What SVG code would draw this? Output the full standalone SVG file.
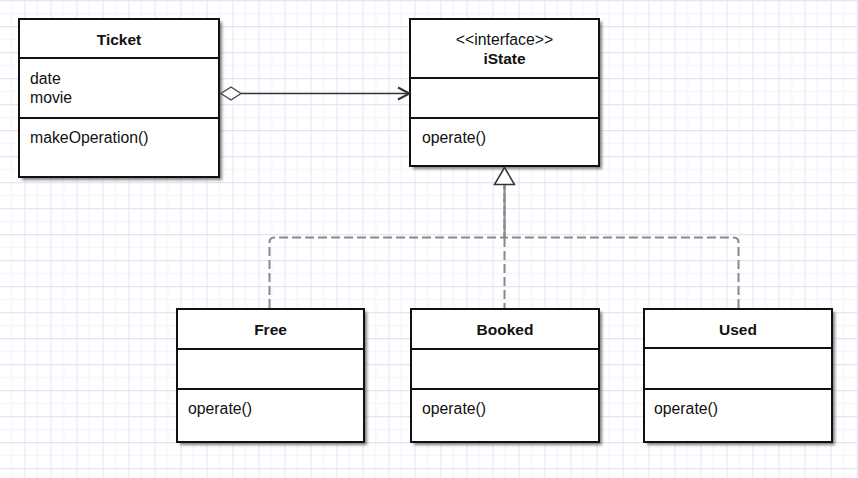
<svg xmlns="http://www.w3.org/2000/svg" width="858" height="478" viewBox="0 0 858 478">
<defs>
<pattern id="grid" patternUnits="userSpaceOnUse" width="26" height="26" x="-1.5" y="0">
<rect width="26" height="26" fill="#ffffff"/>
<line x1="0" y1="13.5" x2="26" y2="13.5" stroke="#f5f5fd" stroke-width="1.5"/>
<line x1="13" y1="0" x2="13" y2="26" stroke="#f5f5fd" stroke-width="1.5"/>
<line x1="0" y1="0.5" x2="26" y2="0.5" stroke="#e4e4f8" stroke-width="1.5"/>
<line x1="0" y1="0" x2="0" y2="26" stroke="#e4e4f8" stroke-width="2"/>
</pattern>
<filter id="shadow" x="-10%" y="-10%" width="130%" height="130%">
<feGaussianBlur stdDeviation="1.5"/>
</filter>
<style>
.sh{fill:#555;opacity:0.75;filter:url(#shadow)}
.box{fill:#ffffff;stroke:#111;stroke-width:2}
.div{stroke:#111;stroke-width:2}
.t{font-family:"Liberation Sans",Arial,sans-serif;font-size:15.8px;fill:#111}
.b{font-family:"Liberation Sans",Arial,sans-serif;font-size:15.5px;font-weight:bold;fill:#111;text-anchor:middle}
.c{text-anchor:middle}
.dash{fill:none;stroke:#8a8a8a;stroke-width:2;stroke-dasharray:9 4}
</style>
</defs>
<rect width="858" height="478" fill="url(#grid)"/>

<g id="ticket">
<rect class="sh" x="22" y="22" width="200" height="158"/>
<rect class="box" x="19" y="19" width="200" height="158"/>
<line class="div" x1="19" y1="58" x2="219" y2="58"/>
<line class="div" x1="19" y1="118" x2="219" y2="118"/>
<text class="b" x="119" y="45">Ticket</text>
<text class="t" x="30" y="84">date</text>
<text class="t" x="30" y="103">movie</text>
<text class="t" x="30" y="143">makeOperation()</text>
</g>

<g id="istate">
<rect class="sh" x="413" y="22" width="189" height="147"/>
<rect class="box" x="410" y="19" width="189" height="147"/>
<line class="div" x1="410" y1="78" x2="599" y2="78"/>
<line class="div" x1="410" y1="118" x2="599" y2="118"/>
<text class="t c" x="504.5" y="45">&lt;&lt;interface&gt;&gt;</text>
<text class="b" x="504.5" y="64">iState</text>
<text class="t" x="422" y="143">operate()</text>
</g>

<g id="free">
<rect class="sh" x="180" y="312" width="187" height="133"/>
<rect class="box" x="177" y="309" width="187" height="133"/>
<line class="div" x1="177" y1="349" x2="364" y2="349"/>
<line class="div" x1="177" y1="389" x2="364" y2="389"/>
<text class="b" x="270.5" y="335">Free</text>
<text class="t" x="188" y="414">operate()</text>
</g>

<g id="booked">
<rect class="sh" x="414" y="312" width="188" height="133"/>
<rect class="box" x="411" y="309" width="188" height="133"/>
<line class="div" x1="411" y1="349" x2="599" y2="349"/>
<line class="div" x1="411" y1="389" x2="599" y2="389"/>
<text class="b" x="505" y="335">Booked</text>
<text class="t" x="422" y="414">operate()</text>
</g>

<g id="used">
<rect class="sh" x="647" y="312" width="188" height="133"/>
<rect class="box" x="644" y="309" width="188" height="133"/>
<line class="div" x1="644" y1="348" x2="832" y2="348"/>
<line class="div" x1="644" y1="389" x2="832" y2="389"/>
<text class="b" x="738" y="335">Used</text>
<text class="t" x="654" y="414">operate()</text>
</g>

<g id="connectors">
<line x1="241" y1="93.5" x2="409" y2="93.5" stroke="#333" stroke-width="1.5"/>
<polygon points="221,93.5 231,87 241,93.5 231,100" fill="#fff" stroke="#444" stroke-width="1.3"/>
<polyline points="398,87.5 409.5,93.5 398,99.5" fill="none" stroke="#333" stroke-width="2"/>
<path class="dash" d="M269.5,308 V242.5 Q269.5,237.5 274.5,237.5 H504.5 V185"/>
<path class="dash" d="M738.5,308 V242.5 Q738.5,237.5 733.5,237.5 H504.5 V185"/>
<path class="dash" d="M504.5,308 V185" stroke="#666" stroke-dashoffset="4"/>
<polygon points="504.5,167.5 494.5,184.5 514.5,184.5" fill="#fff" stroke="#333" stroke-width="1.5"/>
</g>
</svg>
